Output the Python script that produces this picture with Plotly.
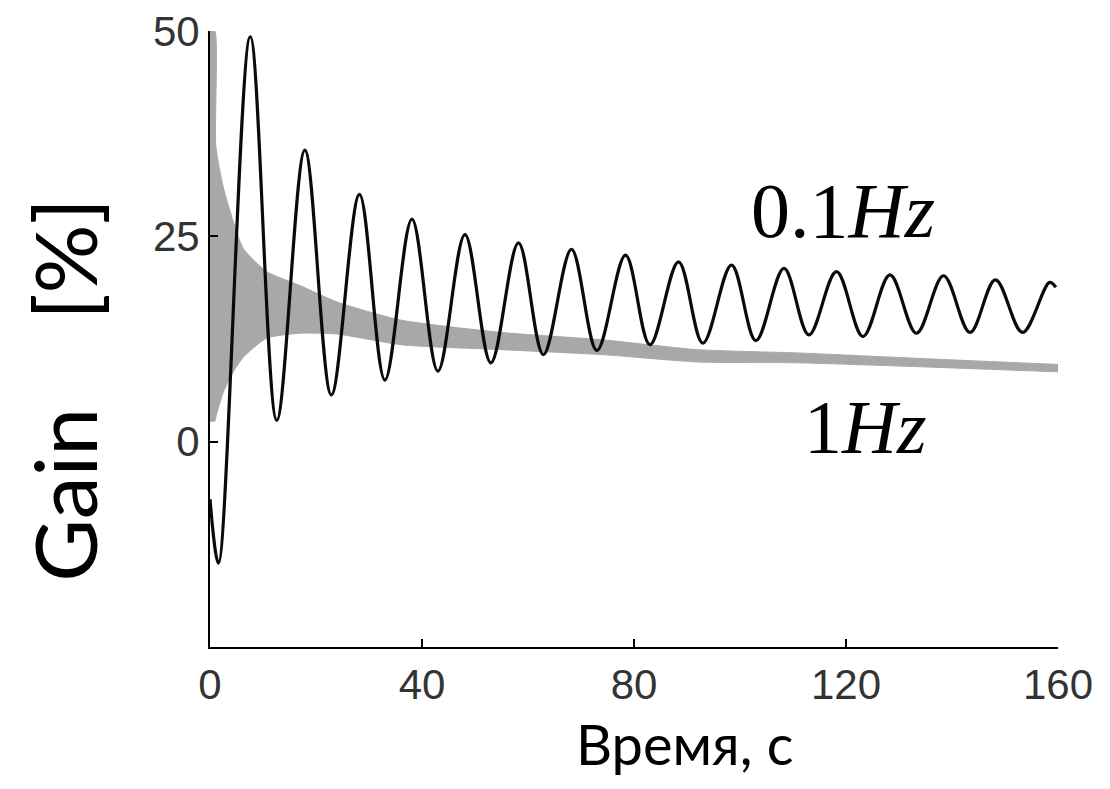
import plotly.graph_objects as go

# ---- data ----
# 0.1 Hz response: turning points (time in s, gain in %)
t_slow = [0, 1.6, 7.6, 12.6, 17.9, 22.9, 28.2, 33.0, 38.1, 43.0, 48.1, 53.0,
          58.2, 62.9, 68.2, 73.0, 78.4, 83.0, 88.4, 93.0, 98.4, 103.0, 108.3,
          113.0, 118.2, 123.2, 128.3, 133.3, 138.4, 143.4, 148.2, 153.3, 158.4, 159.6]
g_slow = [-7, -14.8, 49.3, 2.6, 35.5, 5.7, 30.1, 7.5, 27.1, 8.6, 25.2, 9.6,
          24.2, 10.6, 23.4, 11.1, 22.7, 11.8, 21.9, 12.0, 21.5, 12.3, 21.1,
          13.0, 20.7, 12.8, 20.3, 13.2, 20.2, 13.3, 19.7, 13.3, 19.4, 18.8]

# 1 Hz response: dense oscillation drawn as its upper / lower envelope
t_fast = [0, 0.9, 1.1, 2.5, 4.4, 6.3, 10.7, 17, 24, 36, 55, 74, 92, 111, 135, 160]
g_fast_hi = [50, 50, 36, 31, 26.8, 23.5, 20.7, 19.0, 17.0, 14.8, 13.3, 12.4, 11.2, 10.8, 10.1, 9.4]
g_fast_lo = [2.5, 2.5, 3.0, 6.0, 8.5, 10.3, 12.6, 13.2, 13.1, 11.8, 11.2, 10.6, 9.7, 9.6, 9.1, 8.5]

x_ticks = [0, 40, 80, 120, 160]
y_ticks = [0, 25, 50]

GRAY = '#a8a8a8'
tick_font = dict(family='Liberation Sans, Arial, sans-serif', size=42, color='#333333')

fig = go.Figure()

# серая полоса (1 Гц)
fig.add_trace(go.Scatter(x=t_fast, y=g_fast_lo, mode='lines',
                         line=dict(color=GRAY, width=1, shape='spline', smoothing=0.6),
                         hoverinfo='skip'))
fig.add_trace(go.Scatter(x=t_fast, y=g_fast_hi, mode='lines', fill='tonexty',
                         fillcolor=GRAY,
                         line=dict(color=GRAY, width=1, shape='spline', smoothing=0.6),
                         hoverinfo='skip'))

# чёрная кривая (0.1 Гц)
fig.add_trace(go.Scatter(x=t_slow, y=g_slow, mode='lines',
                         line=dict(color='#0a0a0a', width=3.2, shape='spline', smoothing=1)))

axis_style = dict(ticks='inside', ticklen=8, tickwidth=2, tickcolor='black',
                  showline=True, linecolor='black', linewidth=2, showgrid=False,
                  zeroline=False, tickfont=tick_font, automargin=False,
                  ticklabeloverflow='allow')
fig.update_xaxes(range=[0, 160], tickvals=x_ticks, ticklabelstandoff=0, **axis_style)
fig.update_yaxes(range=[-25, 50], tickvals=y_ticks, **axis_style)

serif = dict(family='Liberation Serif, DejaVu Serif, serif', color='black')
sans = dict(family='Lato, Open Sans, sans-serif', color='black')

# страница имеет отступ 8px, поэтому фигура чуть меньше окна
fig.update_layout(
    width=1094, height=773,
    margin=dict(l=202, r=44, t=23, b=134),
    plot_bgcolor='white', paper_bgcolor='white',
    showlegend=False,
    annotations=[
        dict(text='0.1<i>Hz</i>', x=119.4, y=28.2, xref='x', yref='y',
             showarrow=False, font=dict(serif, size=78), xanchor='center', yanchor='middle'),
        dict(text='1<i>Hz</i>', x=123.5, y=1.8, xref='x', yref='y',
             showarrow=False, font=dict(serif, size=76), xanchor='center', yanchor='middle'),
        dict(text='Время, с', x=0.559, y=-0.156, xref='paper', yref='paper',
             showarrow=False, font=dict(sans, size=56), xanchor='center', yanchor='middle'),
        dict(text='Gain\u00a0\u00a0\u00a0\u00a0[%]', x=-0.173, y=0.418, xref='paper', yref='paper',
             showarrow=False, font=dict(sans, size=86), textangle=-90,
             xanchor='center', yanchor='middle'),
    ],
)

fig.write_html('out.html', config={'displayModeBar': False})
